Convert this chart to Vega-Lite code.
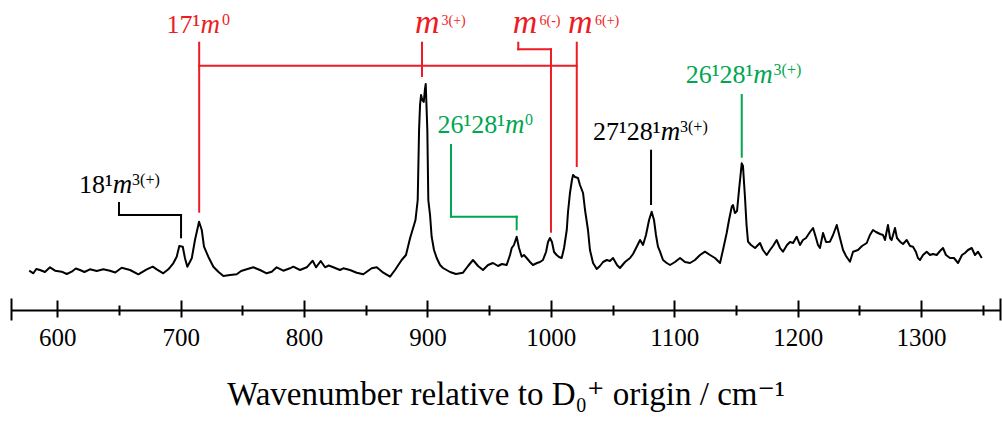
{
  "$schema": "https://vega.github.io/schema/vega-lite/v6.json",
  "width": 989,
  "height": 310,
  "autosize": {"type": "none"},
  "padding": {"left": 11, "top": 0, "right": 2, "bottom": 111},
  "background": "white",
  "config": {"view": {"stroke": null}},
  "datasets": {
    "spectrum": [
      {"w": 577.3, "I": -0.7}, {"w": 580.6, "I": -3.3}, {"w": 583.0, "I": 1}, {"w": 586.0, "I": 0}, {"w": 590.0, "I": -2}, {"w": 594.1, "I": 2.7},
      {"w": 598.2, "I": -0.7}, {"w": 603.6, "I": -1.7}, {"w": 607.7, "I": -4}, {"w": 611.7, "I": -1.7},
      {"w": 615.0, "I": 1.5}, {"w": 618.4, "I": 0}, {"w": 622.0, "I": -2}, {"w": 626.5, "I": 0.7}, {"w": 632.0, "I": -1}, {"w": 637.3, "I": 0.7},
      {"w": 642.7, "I": -0.7}, {"w": 647.0, "I": -2.5}, {"w": 652.2, "I": 2.3}, {"w": 659.0, "I": 0}, {"w": 665.7, "I": -4.3},
      {"w": 672.5, "I": 0.7}, {"w": 677.4, "I": 3.3}, {"w": 680.6, "I": 0.7}, {"w": 685.9, "I": -3.3},
      {"w": 690.0, "I": 0.7}, {"w": 694.0, "I": 6.7}, {"w": 696.8, "I": 13.3}, {"w": 698.9, "I": 24},
      {"w": 701.7, "I": 23.3}, {"w": 703.5, "I": 11.7}, {"w": 705.4, "I": 3.3}, {"w": 709.0, "I": 11.7},
      {"w": 711.6, "I": 30}, {"w": 714.9, "I": 48.3}, {"w": 717.1, "I": 40}, {"w": 718.9, "I": 23.3},
      {"w": 722.4, "I": 13.3}, {"w": 726.5, "I": 3.3}, {"w": 730.5, "I": -1.7}, {"w": 734.6, "I": -6},
      {"w": 740.0, "I": -5}, {"w": 745.4, "I": -4.3}, {"w": 749.0, "I": -1}, {"w": 753.5, "I": 0.7}, {"w": 758.9, "I": 2.7},
      {"w": 764.3, "I": 0}, {"w": 769.7, "I": -3.3}, {"w": 773.8, "I": -1.7}, {"w": 777.8, "I": 2.7},
      {"w": 783.2, "I": -0.7}, {"w": 788.6, "I": 1.7}, {"w": 791.3, "I": 3.3}, {"w": 796.7, "I": 0},
      {"w": 802.2, "I": 2.7}, {"w": 807.0, "I": 9.3}, {"w": 809.7, "I": 2.7}, {"w": 813.5, "I": 9},
      {"w": 817.0, "I": 2.7}, {"w": 820.0, "I": 4.5}, {"w": 823.7, "I": 2.7}, {"w": 829.1, "I": 0}, {"w": 831.8, "I": 1.7},
      {"w": 837.2, "I": 0}, {"w": 842.7, "I": -2.7}, {"w": 848.0, "I": -4.3}, {"w": 854.8, "I": 1.7},
      {"w": 858.9, "I": 2.7}, {"w": 864.2, "I": -2.7}, {"w": 869.7, "I": -6.7}, {"w": 873.7, "I": 0},
      {"w": 879.1, "I": 10}, {"w": 882.6, "I": 15}, {"w": 885.9, "I": 31.7}, {"w": 889.1, "I": 45},
      {"w": 890.3, "I": 50}, {"w": 892.1, "I": 70}, {"w": 893.2, "I": 140}, {"w": 894.0, "I": 165},
      {"w": 894.8, "I": 175}, {"w": 895.8, "I": 170}, {"w": 897.0, "I": 168}, {"w": 897.9, "I": 180},
      {"w": 898.6, "I": 186}, {"w": 899.2, "I": 165}, {"w": 899.9, "I": 140}, {"w": 900.7, "I": 70},
      {"w": 902.1, "I": 55}, {"w": 903.4, "I": 33.3}, {"w": 905.3, "I": 20}, {"w": 907.5, "I": 12},
      {"w": 910.2, "I": 5}, {"w": 912.6, "I": 2}, {"w": 918.3, "I": -2}, {"w": 923.1, "I": -4},
      {"w": 928.8, "I": -2.7}, {"w": 932.9, "I": 4}, {"w": 936.9, "I": 10}, {"w": 941.0, "I": 4},
      {"w": 945.0, "I": 0}, {"w": 949.1, "I": 5}, {"w": 953.1, "I": 7}, {"w": 957.2, "I": 4},
      {"w": 960.4, "I": 6}, {"w": 964.2, "I": 5}, {"w": 966.9, "I": 15}, {"w": 968.3, "I": 22},
      {"w": 970.1, "I": 25}, {"w": 972.3, "I": 33.3}, {"w": 974.2, "I": 22}, {"w": 976.4, "I": 13.3},
      {"w": 978.2, "I": 15}, {"w": 980.4, "I": 12}, {"w": 983.1, "I": 8}, {"w": 985.5, "I": 5},
      {"w": 988.8, "I": 7}, {"w": 991.2, "I": 8}, {"w": 993.6, "I": 10}, {"w": 996.1, "I": 18},
      {"w": 997.7, "I": 28}, {"w": 999.3, "I": 32}, {"w": 1000.9, "I": 28}, {"w": 1002.6, "I": 18},
      {"w": 1004.7, "I": 15}, {"w": 1006.6, "I": 13}, {"w": 1008.8, "I": 12}, {"w": 1010.7, "I": 22},
      {"w": 1012.9, "I": 40}, {"w": 1013.9, "I": 58}, {"w": 1015.5, "I": 77}, {"w": 1017.1, "I": 90},
      {"w": 1018.0, "I": 95}, {"w": 1019.6, "I": 93}, {"w": 1022.0, "I": 92}, {"w": 1023.6, "I": 85},
      {"w": 1026.1, "I": 77}, {"w": 1027.7, "I": 60}, {"w": 1030.1, "I": 40}, {"w": 1031.7, "I": 20},
      {"w": 1034.2, "I": 7}, {"w": 1037.2, "I": 1}, {"w": 1039.8, "I": 4}, {"w": 1042.3, "I": 8},
      {"w": 1045.3, "I": 10}, {"w": 1047.9, "I": 9}, {"w": 1050.4, "I": 12}, {"w": 1053.6, "I": 5},
      {"w": 1056.0, "I": 2}, {"w": 1060.1, "I": 8}, {"w": 1064.2, "I": 12}, {"w": 1066.6, "I": 16},
      {"w": 1069.6, "I": 23.3}, {"w": 1072.3, "I": 30}, {"w": 1074.7, "I": 25}, {"w": 1077.1, "I": 35},
      {"w": 1079.6, "I": 50}, {"w": 1081.7, "I": 58.3}, {"w": 1083.6, "I": 50}, {"w": 1085.2, "I": 35},
      {"w": 1086.8, "I": 23.3}, {"w": 1088.5, "I": 18.3}, {"w": 1090.9, "I": 10}, {"w": 1093.9, "I": 7},
      {"w": 1096.6, "I": 5}, {"w": 1100.6, "I": 8}, {"w": 1104.7, "I": 12}, {"w": 1108.7, "I": 8},
      {"w": 1112.8, "I": 7}, {"w": 1116.8, "I": 10}, {"w": 1120.9, "I": 15}, {"w": 1124.9, "I": 18.3},
      {"w": 1129.0, "I": 15}, {"w": 1133.0, "I": 12}, {"w": 1137.1, "I": 7}, {"w": 1139.5, "I": 20},
      {"w": 1142.5, "I": 37}, {"w": 1144.4, "I": 50}, {"w": 1146.6, "I": 63.3}, {"w": 1147.6, "I": 65},
      {"w": 1149.2, "I": 57}, {"w": 1150.9, "I": 59}, {"w": 1152.5, "I": 80}, {"w": 1154.7, "I": 106.7},
      {"w": 1155.7, "I": 104}, {"w": 1157.3, "I": 73.3}, {"w": 1158.6, "I": 45}, {"w": 1159.8, "I": 28.3},
      {"w": 1162.2, "I": 25}, {"w": 1165.5, "I": 22}, {"w": 1167.9, "I": 25}, {"w": 1169.5, "I": 27},
      {"w": 1171.9, "I": 20}, {"w": 1174.9, "I": 15}, {"w": 1177.6, "I": 20}, {"w": 1180.0, "I": 24},
      {"w": 1183.0, "I": 30}, {"w": 1185.7, "I": 22}, {"w": 1188.1, "I": 18.3}, {"w": 1191.4, "I": 25},
      {"w": 1193.8, "I": 28}, {"w": 1196.3, "I": 27}, {"w": 1199.2, "I": 33.3}, {"w": 1201.9, "I": 25},
      {"w": 1204.3, "I": 30}, {"w": 1206.8, "I": 32}, {"w": 1210.0, "I": 38}, {"w": 1212.5, "I": 42},
      {"w": 1214.9, "I": 32}, {"w": 1216.5, "I": 25}, {"w": 1218.1, "I": 22}, {"w": 1220.6, "I": 37},
      {"w": 1223.0, "I": 28}, {"w": 1226.2, "I": 28.3}, {"w": 1228.7, "I": 35}, {"w": 1231.7, "I": 45},
      {"w": 1234.3, "I": 32}, {"w": 1236.8, "I": 20}, {"w": 1239.2, "I": 14}, {"w": 1242.4, "I": 8.3},
      {"w": 1244.9, "I": 18.3}, {"w": 1248.9, "I": 20}, {"w": 1252.2, "I": 24}, {"w": 1256.0, "I": 27},
      {"w": 1258.6, "I": 35}, {"w": 1261.1, "I": 40}, {"w": 1263.5, "I": 38}, {"w": 1266.8, "I": 36},
      {"w": 1269.2, "I": 35}, {"w": 1270.8, "I": 30}, {"w": 1273.2, "I": 45}, {"w": 1274.9, "I": 32},
      {"w": 1276.2, "I": 30}, {"w": 1278.9, "I": 42}, {"w": 1280.5, "I": 32}, {"w": 1283.0, "I": 28.3},
      {"w": 1285.4, "I": 26}, {"w": 1288.4, "I": 30}, {"w": 1291.1, "I": 24}, {"w": 1293.5, "I": 23.3},
      {"w": 1295.9, "I": 18}, {"w": 1297.5, "I": 12}, {"w": 1299.2, "I": 10}, {"w": 1301.6, "I": 15},
      {"w": 1304.6, "I": 18.3}, {"w": 1307.3, "I": 15}, {"w": 1309.7, "I": 16}, {"w": 1312.7, "I": 15},
      {"w": 1315.4, "I": 19}, {"w": 1317.8, "I": 22}, {"w": 1320.2, "I": 15}, {"w": 1323.5, "I": 12},
      {"w": 1326.7, "I": 12}, {"w": 1330.0, "I": 7}, {"w": 1333.2, "I": 15}, {"w": 1335.6, "I": 17},
      {"w": 1338.1, "I": 20}, {"w": 1341.1, "I": 22}, {"w": 1343.7, "I": 15}, {"w": 1346.2, "I": 18.3},
      {"w": 1349.2, "I": 12}
    ],
    "lines": [
      {"w1": 715, "w2": 715, "I1": 227.3, "I2": 58.3, "group": "prog"},
      {"w1": 715, "w2": 1021, "I1": 204.3, "I2": 204.3, "group": "prog"},
      {"w1": 895.6, "w2": 895.6, "I1": 227.3, "I2": 194, "group": "prog"},
      {"w1": 973.6, "w2": 973.6, "I1": 227.3, "I2": 220.7, "group": "prog"},
      {"w1": 973.6, "w2": 1000.1, "I1": 220.7, "I2": 220.7, "group": "prog"},
      {"w1": 1000.1, "w2": 1000.1, "I1": 220.7, "I2": 38.3, "group": "prog"},
      {"w1": 1021, "w2": 1021, "I1": 227.3, "I2": 104, "group": "prog"},
      {"w1": 919.1, "w2": 919.1, "I1": 125, "I2": 53.3, "group": "comb"},
      {"w1": 919.1, "w2": 972.3, "I1": 53.3, "I2": 53.3, "group": "comb"},
      {"w1": 972.3, "w2": 972.3, "I1": 53.3, "I2": 40.7, "group": "comb"},
      {"w1": 1154.7, "w2": 1154.7, "I1": 175, "I2": 113.3, "group": "comb"},
      {"w1": 1081.2, "w2": 1081.2, "I1": 119.3, "I2": 66, "group": "other"},
      {"w1": 650, "w2": 650, "I1": 67, "I2": 55, "group": "other"},
      {"w1": 650, "w2": 700.3, "I1": 55, "I2": 55, "group": "other"},
      {"w1": 700.3, "w2": 700.3, "I1": 55, "I2": 32.7, "group": "other"}
    ],
    "labels": [
      {"w": 716, "wsup": 733.5, "I": 237.3, "up": "17¹", "sup": "0", "tier": "normal", "group": "prog"},
      {"w": 889.9, "wsup": 911.4, "I": 237.0, "up": "", "sup": "3(+)", "tier": "top", "group": "prog"},
      {"w": 969.1, "wsup": 990.8, "I": 237.0, "up": "", "sup": "6(-)", "tier": "top", "group": "prog"},
      {"w": 1013.9, "wsup": 1035.8, "I": 237.0, "up": "", "sup": "6(+)", "tier": "top", "group": "prog"},
      {"w": 962.9, "wsup": 979.0, "I": 136.7, "up": "26¹28¹", "sup": "0", "tier": "normal", "group": "comb"},
      {"w": 1089, "wsup": 1104.7, "I": 130, "up": "27¹28¹", "sup": "3(+)", "tier": "normal", "group": "other"},
      {"w": 1164.1, "wsup": 1180.5, "I": 186.7, "up": "26¹28¹", "sup": "3(+)", "tier": "normal", "group": "comb"},
      {"w": 644.9, "wsup": 660.6, "I": 76.7, "up": "18¹", "sup": "3(+)", "tier": "normal", "group": "other"}
    ]
  },
  "resolve": {"axis": {"x": "independent"}, "scale": {"size": "independent"}},
  "layer": [
    {
      "data": {"name": "spectrum"},
      "mark": {"type": "line", "color": "black", "strokeWidth": 2, "strokeJoin": "round"},
      "encoding": {
        "x": {
          "field": "w", "type": "quantitative",
          "scale": {"domain": [562.5, 1364], "nice": false, "zero": false},
          "axis": {
            "orient": "bottom", "values": [600, 700, 800, 900, 1000, 1100, 1200, 1300],
            "format": "d", "ticks": false, "tickSize": 0, "grid": false,
            "domain": true, "domainColor": "black", "domainWidth": 2,
            "labelFont": "Liberation Serif, DejaVu Serif", "labelFontSize": 25, "labelColor": "black",
            "labelBaseline": "alphabetic", "labelPadding": 35, "labelFlush": false,
            "title": "Wavenumber relative to D₀⁺ origin / cm⁻¹",
            "titleFont": "Liberation Serif, DejaVu Serif", "titleFontSize": 33, "titleFontWeight": "normal",
            "titleColor": "black", "titlePadding": 28
          }
        },
        "y": {
          "field": "I", "type": "quantitative",
          "scale": {"domain": [-40, 270], "nice": false, "zero": false},
          "axis": null
        }
      }
    },
    {
      "data": {"name": "lines"},
      "mark": {"type": "rule", "strokeWidth": 2, "strokeCap": "square"},
      "encoding": {
        "x": {
          "field": "w1", "type": "quantitative",
          "axis": {
            "orient": "bottom", "values": [600, 700, 800, 900, 1000, 1100, 1200, 1300],
            "offset": 7, "tickSize": -17, "tickWidth": 2, "tickColor": "black",
            "domain": false, "labels": false, "title": null, "grid": false
          }
        },
        "x2": {"field": "w2"},
        "y": {"field": "I1", "type": "quantitative", "axis": null},
        "y2": {"field": "I2"},
        "color": {
          "field": "group", "type": "nominal",
          "scale": {"domain": ["prog", "comb", "other"], "range": ["#ED1C24", "#00A651", "#000000"]},
          "legend": null
        }
      }
    },
    {
      "data": {"name": "labels"},
      "mark": {"type": "text", "align": "right", "baseline": "alphabetic", "font": "Liberation Serif, DejaVu Serif", "fontSize": 26},
      "encoding": {
        "x": {
          "field": "w", "type": "quantitative",
          "axis": {
            "orient": "bottom", "values": [650, 750, 850, 950, 1050, 1150, 1250, 1350],
            "offset": 5, "tickSize": -10, "tickWidth": 2, "tickColor": "black",
            "domain": false, "labels": false, "title": null, "grid": false
          }
        },
        "y": {"field": "I", "type": "quantitative", "axis": null},
        "text": {"field": "up"},
        "color": {
          "field": "group", "type": "nominal",
          "scale": {"domain": ["prog", "comb", "other"], "range": ["#ED1C24", "#00A651", "#000000"]},
          "legend": null
        }
      }
    },
    {
      "data": {"name": "labels"},
      "mark": {"type": "text", "text": "m", "align": "left", "baseline": "alphabetic", "font": "Liberation Serif, DejaVu Serif", "fontStyle": "italic"},
      "encoding": {
        "x": {
          "field": "w", "type": "quantitative",
          "axis": {
            "orient": "bottom", "values": [562.5, 1364],
            "offset": 10, "tickSize": -22, "tickWidth": 2, "tickColor": "black",
            "domain": false, "labels": false, "title": null, "grid": false
          }
        },
        "y": {"field": "I", "type": "quantitative", "axis": null},
        "size": {
          "field": "tier", "type": "ordinal",
          "scale": {"domain": ["top", "normal"], "range": [34, 27]},
          "legend": null
        },
        "color": {
          "field": "group", "type": "nominal",
          "scale": {"domain": ["prog", "comb", "other"], "range": ["#ED1C24", "#00A651", "#000000"]},
          "legend": null
        }
      }
    },
    {
      "data": {"name": "labels"},
      "mark": {"type": "text", "align": "left", "baseline": "alphabetic", "dy": -8, "font": "Liberation Serif, DejaVu Serif"},
      "encoding": {
        "x": {"field": "wsup", "type": "quantitative", "axis": null},
        "y": {"field": "I", "type": "quantitative", "axis": null},
        "text": {"field": "sup"},
        "size": {
          "field": "tier", "type": "ordinal",
          "scale": {"domain": ["top", "normal"], "range": [14, 16]},
          "legend": null
        },
        "color": {
          "field": "group", "type": "nominal",
          "scale": {"domain": ["prog", "comb", "other"], "range": ["#ED1C24", "#00A651", "#000000"]},
          "legend": null
        }
      }
    }
  ]
}
